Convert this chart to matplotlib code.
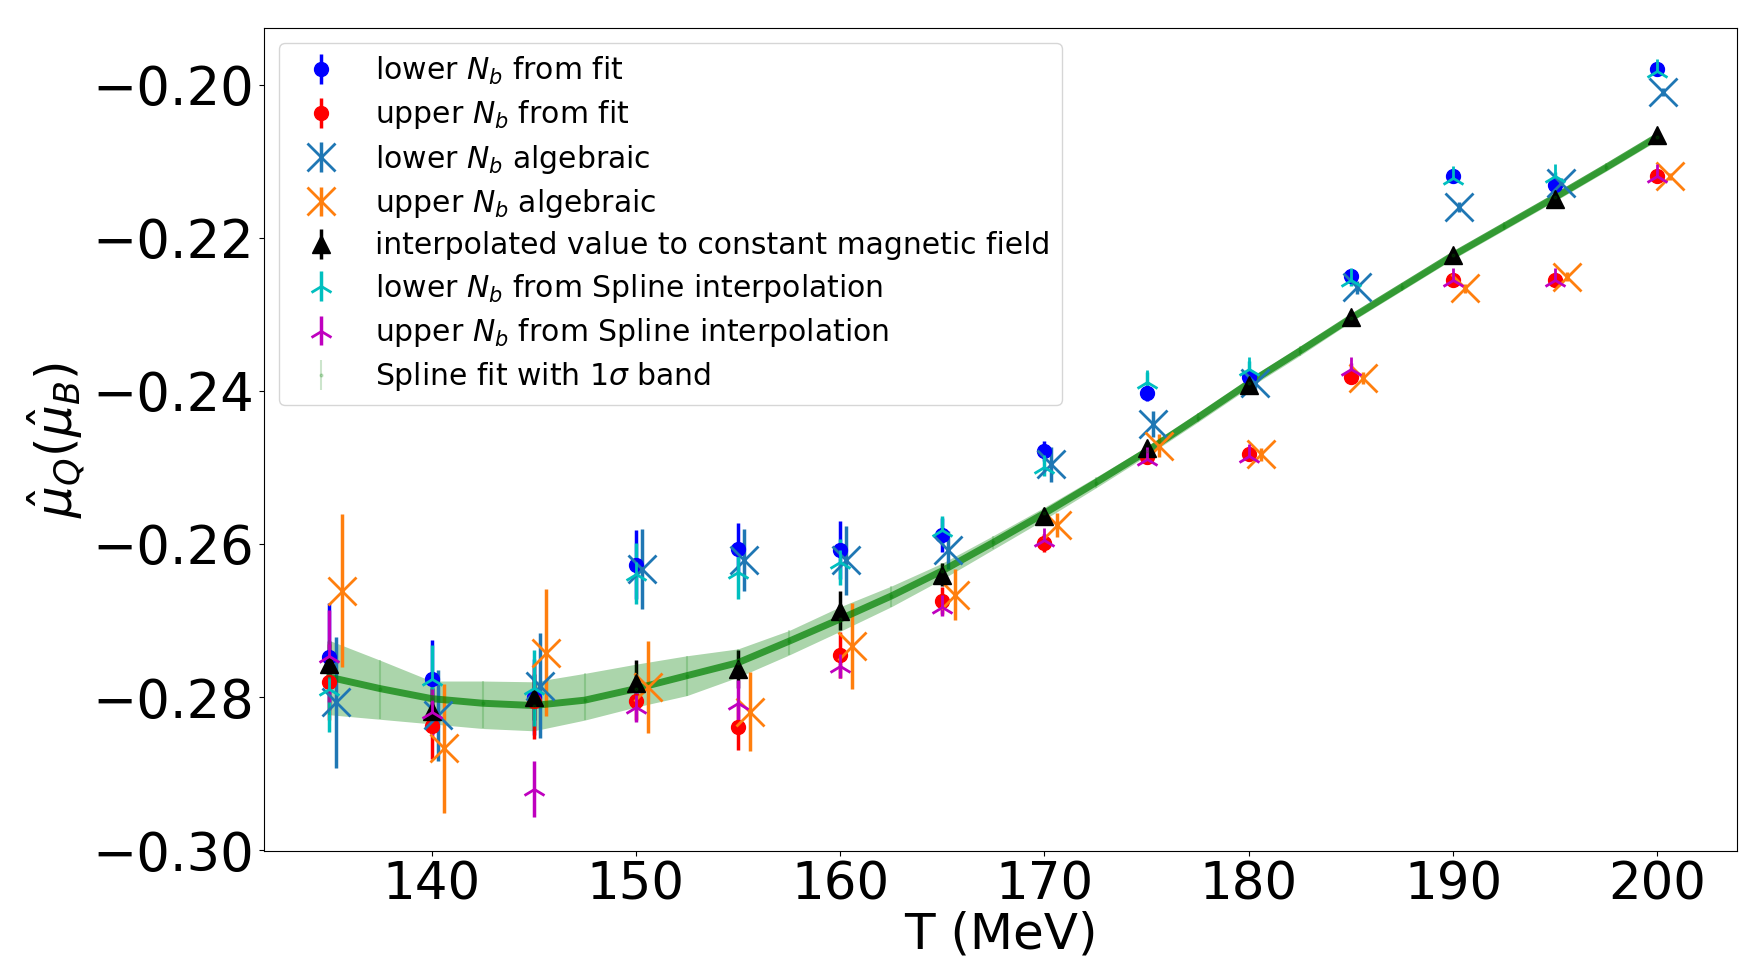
import numpy as np
import matplotlib
matplotlib.use("Agg")
import matplotlib.pyplot as plt

# temperatures (MeV)
T = np.array([135, 140, 145, 150, 155, 160, 165, 170, 175, 180, 185, 190, 195, 200])

# lower N_b from fit
low_fit = [-0.2747, -0.2777, -0.2800, -0.2627, -0.2607, -0.2608, -0.2588,
           -0.2479, -0.2403, -0.2382, -0.2250, -0.2120, -0.2131, -0.1980]
low_fit_err = [0.0070, 0.0052, 0.0050, 0.0045, 0.0034, 0.0038, 0.0022,
               0.0013, 0.0010, 0.0008, 0.0007, 0.0005, 0.0005, 0.0004]

# upper N_b from fit
up_fit = [-0.2780, -0.2838, -0.2805, -0.2805, -0.2839, -0.2745, -0.2674,
          -0.2599, -0.2487, -0.2482, -0.2382, -0.2255, -0.2255, -0.2120]
up_fit_err = [0.0050, 0.0043, 0.0050, 0.0025, 0.0030, 0.0030, 0.0018,
              0.0012, 0.0008, 0.0007, 0.0007, 0.0005, 0.0005, 0.0004]

# lower N_b algebraic
low_alg = [-0.2807, -0.2824, -0.2785, -0.2633, -0.2621, -0.2621, -0.2608,
           -0.2496, -0.2443, -0.2390, -0.2265, -0.2160, -0.2128, -0.2010]
low_alg_err = [0.0085, 0.0059, 0.0069, 0.0052, 0.0040, 0.0045, 0.0025,
               0.0023, 0.0017, 0.0010, 0.0008, 0.0006, 0.0006, 0.0005]

# upper N_b algebraic
up_alg = [-0.2661, -0.2867, -0.2742, -0.2787, -0.2819, -0.2733, -0.2666,
          -0.2575, -0.2472, -0.2483, -0.2383, -0.2266, -0.2251, -0.2120]
up_alg_err = [0.0100, 0.0084, 0.0083, 0.0060, 0.0052, 0.0056, 0.0033,
              0.0016, 0.0015, 0.0008, 0.0008, 0.0006, 0.0006, 0.0005]

# interpolated value to constant magnetic field
interp = [-0.2757, -0.2818, -0.2800, -0.2782, -0.2763, -0.2687, -0.2640,
          -0.2563, -0.2475, -0.2393, -0.2304, -0.2223, -0.2150, -0.2066]
interp_err = [0.0030, 0.0030, 0.0030, 0.0030, 0.0025, 0.0025, 0.0015,
              0.0010, 0.0008, 0.0006, 0.0005, 0.0004, 0.0004, 0.0003]

# lower N_b from spline interpolation
low_spl = [-0.2790, -0.2777, -0.2788, -0.2639, -0.2637, -0.2624, -0.2582,
           -0.2499, -0.2388, -0.2371, -0.2255, -0.2122, -0.2120, -0.1982]
low_spl_err = [0.0055, 0.0045, 0.0050, 0.0040, 0.0035, 0.0030, 0.0018,
               0.0012, 0.0012, 0.0010, 0.0008, 0.0005, 0.0006, 0.0005]

# upper N_b from spline interpolation
up_spl = [-0.2746, -0.2820, -0.2920, -0.2813, -0.2808, -0.2760, -0.2682,
          -0.2595, -0.2489, -0.2485, -0.2371, -0.2255, -0.2255, -0.2120]
up_spl_err = [0.0060, 0.0030, 0.0036, 0.0020, 0.0030, 0.0015, 0.0012,
              0.0008, 0.0006, 0.0006, 0.0008, 0.0005, 0.0005, 0.0004]

# spline fit with 1 sigma band
spl_T = [135, 137.5, 140, 142.5, 145, 147.5, 150, 152.5, 155, 157.5, 160, 162.5, 165, 167.5,
         170, 172.5, 175, 177.5, 180, 182.5, 185, 187.5, 190, 192.5, 195, 197.5, 200]
spl_mid = [-0.2774, -0.2789, -0.2802, -0.2808, -0.2811, -0.2804, -0.2789, -0.2772, -0.2755,
           -0.2727, -0.2698, -0.2668, -0.2635, -0.2598, -0.2560, -0.2520, -0.2479, -0.2435,
           -0.2390, -0.2348, -0.2305, -0.2264, -0.2223, -0.2185, -0.2147, -0.2108, -0.2068]
spl_hi = [-0.2726, -0.2752, -0.2779, -0.2779, -0.2780, -0.2769, -0.2757, -0.2746, -0.2737,
          -0.2713, -0.2682, -0.2655, -0.2625, -0.2589, -0.2552, -0.2513, -0.2473, -0.2429,
          -0.2384, -0.2342, -0.2300, -0.2259, -0.2218, -0.2180, -0.2142, -0.2103, -0.2063]
spl_lo = [-0.2823, -0.2829, -0.2835, -0.2841, -0.2844, -0.2830, -0.2813, -0.2798, -0.2774,
          -0.2745, -0.2714, -0.2682, -0.2646, -0.2607, -0.2568, -0.2527, -0.2485, -0.2441,
          -0.2396, -0.2354, -0.2310, -0.2269, -0.2228, -0.2190, -0.2152, -0.2113, -0.2073]

fig = plt.figure(figsize=(17.44, 9.63), dpi=100)
ax = fig.add_axes([0.1514, 0.1163, 0.8446, 0.8547])

ew = 2.5
ax.errorbar(T, low_fit, yerr=low_fit_err, fmt="o", color="b", ms=10, elinewidth=ew,
            label=r"lower $N_b$ from fit")
ax.errorbar(T, up_fit, yerr=up_fit_err, fmt="o", color="r", ms=10, elinewidth=ew,
            label=r"upper $N_b$ from fit")
ax.errorbar(T + 0.3, low_alg, yerr=low_alg_err, fmt="x", color="tab:blue", ms=20, mew=2,
            elinewidth=ew, label=r"lower $N_b$ algebraic")
ax.errorbar(T + 0.6, up_alg, yerr=up_alg_err, fmt="x", color="tab:orange", ms=20, mew=2,
            elinewidth=ew, label=r"upper $N_b$ algebraic")
ax.errorbar(T, interp, yerr=interp_err, fmt="^", color="k", ms=13, elinewidth=ew,
            label="interpolated value to constant magnetic field")
ax.errorbar(T, low_spl, yerr=low_spl_err, fmt="2", color="c", ms=18, mew=2, elinewidth=ew,
            label=r"lower $N_b$ from Spline interpolation")
ax.errorbar(T, up_spl, yerr=up_spl_err, fmt="2", color="m", ms=18, mew=2, elinewidth=ew,
            label=r"upper $N_b$ from Spline interpolation")

mid = np.array(spl_mid)
yerr_spl = [mid - np.array(spl_lo), np.array(spl_hi) - mid]
ax.fill_between(spl_T, spl_lo, spl_hi, color="g", alpha=0.33, lw=0)
ax.plot(spl_T, spl_mid, color="g", lw=5, alpha=0.7)
ax.errorbar(spl_T, spl_mid, yerr=yerr_spl, fmt=".", color="g", alpha=0.2, ms=4,
            elinewidth=1.5, label=r"Spline fit with 1$\sigma$ band")

ax.set_xlim(131.8, 203.9)
ax.set_ylim(-0.3001, -0.1926)
ax.set_yticks([-0.30, -0.28, -0.26, -0.24, -0.22, -0.20])
ax.tick_params(axis="x", labelsize=37)
ax.tick_params(axis="y", labelsize=38)
ax.set_xlabel("T (MeV)", fontsize=36, labelpad=0)
ax.set_ylabel(r"$\hat{\mu}_Q(\hat{\mu}_B)$", fontsize=36)

ax.legend(loc="upper left", fontsize=21.5, labelspacing=0.38)

fig.savefig("out.png", dpi=100)
